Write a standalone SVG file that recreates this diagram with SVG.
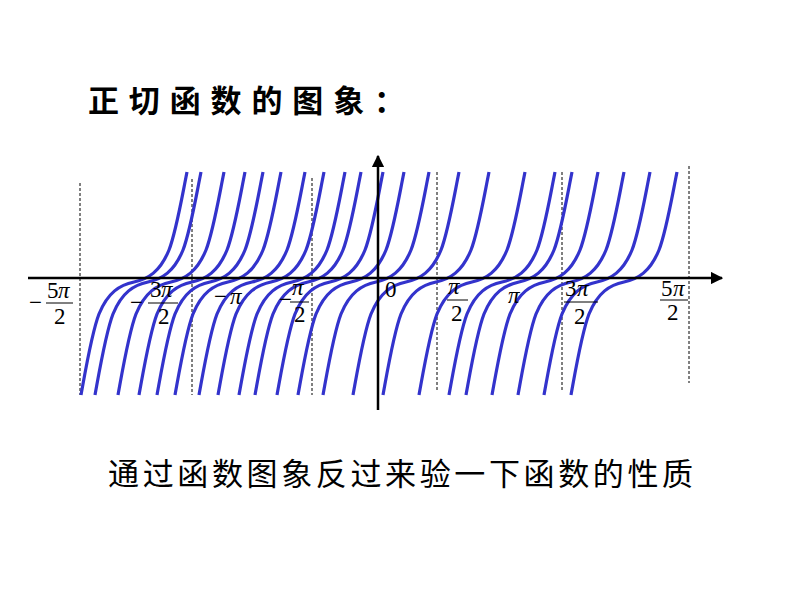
<svg xmlns="http://www.w3.org/2000/svg" width="794" height="596" viewBox="0 0 794 596">
<style>
.c{fill:none;stroke:#3333cc;stroke-width:3.2}
.d{stroke:#000;stroke-width:1;stroke-dasharray:3,2}
.m{font-family:"Liberation Serif",serif;font-size:23px;font-style:italic}
.n{font-family:"Liberation Serif",serif;font-size:23px}
</style>
<defs>
<marker id="a" viewBox="0 0 10 10" refX="9" refY="5" markerWidth="5" markerHeight="5" orient="auto"><path d="M0,0L10,5L0,10z" fill="#000"/></marker>
<path id="t" d="M-53,113 C-47,80 -42,50 -35,32 C-26,10 -14,3 0,0 C14,-3 26,-10 35,-32 C42,-50 47,-80 53,-110"/>
</defs>
<rect width="794" height="596" fill="#fff"/>
<text x="88" y="112" font-family="Noto Sans CJK SC,sans-serif" font-weight="bold" font-size="31" textLength="317">正切函数的图象：</text>
<g id="dashes">
<line class="d" x1="80" y1="183" x2="80" y2="395"/>
<line class="d" x1="192" y1="179" x2="192" y2="395"/>
<line class="d" x1="312" y1="178" x2="312" y2="395"/>
<line class="d" x1="437" y1="172" x2="437" y2="390"/>
<line class="d" x1="562" y1="172" x2="562" y2="390"/>
<line class="d" x1="689" y1="166" x2="689" y2="383"/>
</g>
<g id="curves" class="c">
<use href="#t" x="134" y="282"/><use href="#t" x="148" y="282"/><use href="#t" x="171" y="282"/><use href="#t" x="192" y="282"/>
<use href="#t" x="210" y="282"/><use href="#t" x="228" y="282"/><use href="#t" x="252" y="282"/><use href="#t" x="271" y="282"/>
<use href="#t" x="292" y="282"/><use href="#t" x="308" y="282"/><use href="#t" x="330" y="282"/><use href="#t" x="351" y="282"/>
<use href="#t" x="376" y="282"/><use href="#t" x="406" y="282"/><use href="#t" x="436" y="282"/><use href="#t" x="472" y="282"/>
<use href="#t" x="502" y="282"/><use href="#t" x="519" y="282"/><use href="#t" x="545" y="282"/><use href="#t" x="571" y="282"/>
<use href="#t" x="597" y="282"/><use href="#t" x="624" y="282"/>
</g>
<g id="axes">
<line x1="28" y1="278" x2="722" y2="278" stroke="#000" stroke-width="2.5" marker-end="url(#a)"/>
<line x1="378" y1="410" x2="378" y2="156" stroke="#000" stroke-width="2.5" marker-end="url(#a)"/>
</g>
<g id="labels">
<text class="n" x="29" y="310">−</text><text class="n" x="47" y="298">5</text><text class="m" x="58" y="298">π</text><line x1="46" y1="303" x2="73" y2="303" stroke="#000"/><text class="n" x="54" y="324">2</text>
<text class="n" x="130" y="310">−</text><text class="n" x="150" y="297">3</text><text class="m" x="161" y="297">π</text><line x1="148" y1="303" x2="178" y2="303" stroke="#000"/><text class="n" x="158" y="324">2</text>
<text class="n" x="214" y="304">−</text><text class="m" x="230" y="304">π</text>
<text class="n" x="279" y="307">−</text><text class="m" x="292" y="295">π</text><line x1="290" y1="302" x2="309" y2="302" stroke="#000"/><text class="n" x="294" y="322">2</text>
<text class="n" x="385" y="297">0</text>
<text class="m" x="448" y="294">π</text><line x1="447" y1="300" x2="468" y2="300" stroke="#000"/><text class="n" x="451" y="321">2</text>
<text class="m" x="508" y="303">π</text>
<text class="n" x="565" y="296">3</text><text class="m" x="577" y="296">π</text><line x1="564" y1="302" x2="598" y2="302" stroke="#000"/><text class="n" x="574" y="324">2</text>
<text class="n" x="661" y="296">5</text><text class="m" x="673" y="296">π</text><line x1="660" y1="300" x2="688" y2="300" stroke="#000"/><text class="n" x="667" y="320">2</text>
</g>
<text x="108" y="485" font-family="Noto Sans CJK SC,sans-serif" font-size="31" textLength="585">通过函数图象反过来验一下函数的性质</text>
</svg>
